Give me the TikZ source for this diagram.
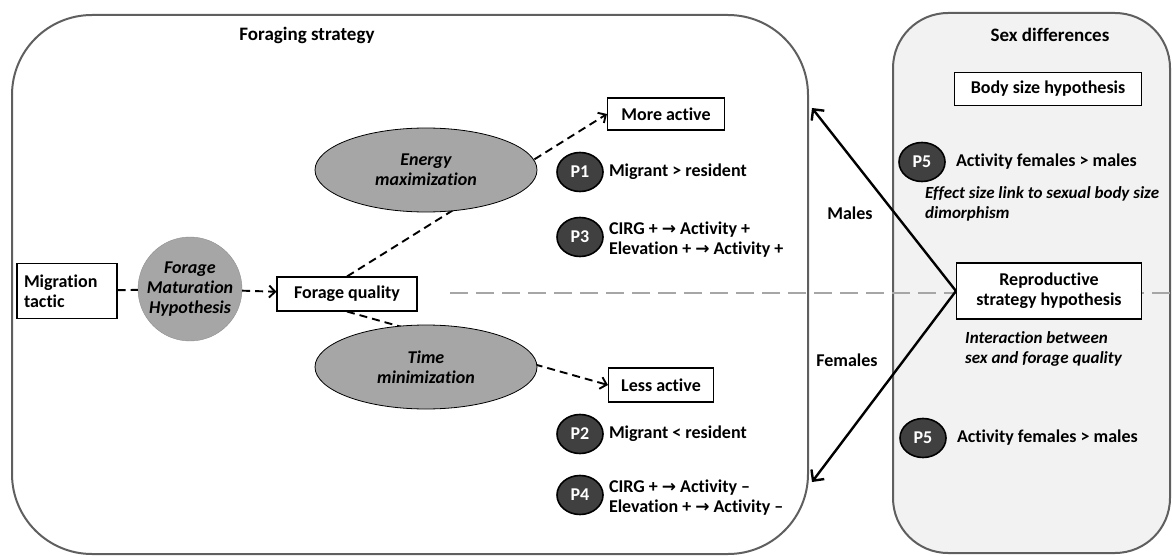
\documentclass[tikz,border=0pt]{standalone}
\usepackage{fontspec}
\setmainfont{Carlito}[Ligatures={TeX,NoCommon}]
\newfontfamily\flechafont{DejaVu Sans}
\usetikzlibrary{shapes.geometric,positioning,arrows.meta}
\definecolor{gris}{HTML}{A6A6A6}
\definecolor{grisclaro}{HTML}{F2F2F2}
\definecolor{grisborde}{HTML}{5F5F5F}
\definecolor{grisoscuro}{HTML}{404040}
\newcommand\tam{\fontsize{18}{20}\selectfont}
\newcommand\flec{{\flechafont\fontsize{17}{20}\selectfont →}}
\tikzset{
	panel/.style={draw=grisborde, line width=2pt},
	titulo/.style={font=\fontsize{19}{22}\selectfont\bfseries},
	recuadro/.style={rectangle, draw=black, line width=1.1pt, fill=white,
		font=\tam\bfseries, align=center, inner sep=3pt},
	ovalo/.style={ellipse, draw=black, line width=0.8pt, fill=gris,
		font=\tam\bfseries\itshape, align=center, minimum width=222pt,
		minimum height=84pt, inner sep=0pt},
	circulo/.style={circle, draw=grisborde!70, fill=gris, font=\tam\bfseries\itshape,
		align=center, minimum size=104pt, inner sep=0pt},
	pred/.style={ellipse, draw=black, line width=1.6pt, fill=grisoscuro,
		text=white, font=\tam\bfseries, minimum width=46pt,
		minimum height=39pt, inner sep=0pt},
	texto/.style={font=\tam\bfseries, align=left, inner sep=0pt},
	nota/.style={font=\fontsize{17}{20}\selectfont\bfseries\itshape, align=left, inner sep=0pt},
	flecha/.style={line width=1.9pt, dash pattern=on 8pt off 5pt,
		-{Straight Barb[length=6pt,width=12pt]}},
	enlace/.style={line width=1.9pt, dash pattern=on 8pt off 5pt},
	divisor/.style={draw=gris, line width=2.2pt, dash pattern=on 18pt off 8pt},
	sexo/.style={line width=2.4pt, -{Straight Barb[length=8pt,width=16pt]}}
}
\begin{document}
\begin{tikzpicture}[x=1pt,y=-1pt]
\useasboundingbox (0,0) rectangle (1172,556);
% paneles
\draw[panel, rounded corners=80pt] (12,15) rectangle (808,554);
\draw[panel, fill=grisclaro, rounded corners=55pt] (893,13) rectangle (1170,553);
\node[titulo] (tforrajeo) at (307,35) {Foraging strategy};
\node[titulo] (tsexo) at (1050,35) {Sex differences};

% estrategia de forrajeo
\node[recuadro, minimum width=100pt, minimum height=55pt, text width=86pt,
	align=left, inner sep=7pt] (mig) at (67,291) {Migration\\tactic};
\node[circulo] (fmh) at (190,289) {Forage\\Maturation\\Hypothesis};
\node[recuadro, minimum width=140pt, minimum height=34pt] (fq) at (347,294) {Forage quality};
\node[recuadro, minimum width=117pt, minimum height=32pt] (mas) at (666,114) {More active};
\node[recuadro, minimum width=105pt, minimum height=34pt] (menos) at (661,385) {Less active};
\draw[enlace] (mig) -- (fmh);
\draw[flecha] (fmh) -- (fq);
\draw[flecha] (fq.north) -- (mas.west);
\draw[flecha] (fq.south) -- (menos.west);
\node[ovalo] (energia) at (426,170) {Energy\\maximization};
\node[ovalo] (tiempo) at (426,367) {Time\\minimization};

% predicciones
\node[pred] (p1) at (580,172) {P1};
\node[texto, right=5pt of p1] (t1) {Migrant > resident};
\node[pred] (p3) at (580,237) {P3};
\node[texto, right=5pt of p3, yshift=-3pt] (t3) {CIRG + \flec{} Activity +\\Elevation + \flec{} Activity +};
\node[pred] (p2) at (580,434) {P2};
\node[texto, right=5pt of p2] (t2) {Migrant < resident};
\node[pred] (p4) at (580,495) {P4};
\node[texto, right=5pt of p4, yshift=-3pt] (t4) {CIRG + \flec{} Activity –\\Elevation + \flec{} Activity –};

% diferencias entre sexos
\coordinate (d1) at (450,293);
\coordinate (d2) at (1172,293);
\draw[divisor] (d1) -- (d2);
\node[recuadro, minimum width=187pt, minimum height=33pt] (cuerpo) at (1048,89) {Body size hypothesis};
\node[recuadro, minimum width=185pt, minimum height=56pt] (repro) at (1049,291) {Reproductive\\strategy hypothesis};
\node[pred] (p5a) at (922,162) {P5};
\node[texto, right=10pt of p5a] (t5a) {Activity females > males};
\node[nota, anchor=west] (nefecto) at (925,204) {Effect size link to sexual body size\\dimorphism};
\node[nota, anchor=west] (ninter) at (965,349) {Interaction between\\sex and forage quality};
\node[pred] (p5b) at (923,438) {P5};
\node[texto, right=10pt of p5b] (t5b) {Activity females > males};
\coordinate (machos) at (812,108);
\coordinate (hembras) at (812,482);
\draw[sexo] (repro.west) -- (machos);
\draw[sexo] (repro.west) -- (hembras);
\node[texto] (lmachos) at (850,213) {Males};
\node[texto] (lhembras) at (847,360) {Females};
\end{tikzpicture}
\end{document}
